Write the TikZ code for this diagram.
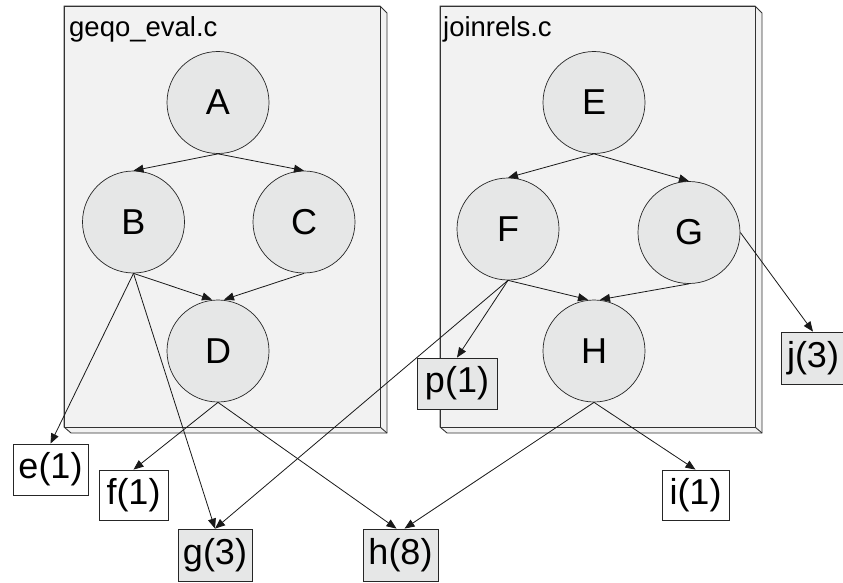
\documentclass[tikz,border=0pt]{standalone}
\usepackage{fontspec}
\setmainfont{Liberation Sans}
\usetikzlibrary{arrows.meta}
\definecolor{panelfill}{HTML}{F2F2F2}
\definecolor{nodefill}{HTML}{E6E7E7}
\newcommand{\circfont}{\fontsize{36}{40}\selectfont}
\newcommand{\leaffont}{\fontsize{36}{40}\selectfont}
\newcommand{\titlefont}{\fontsize{27.5}{31}\selectfont}
\begin{document}
\begin{tikzpicture}[x=1pt,y=-1pt,
  panel/.style={fill=panelfill,draw=black!80,line width=0.9pt},
  circ/.style={circle,draw=black!85,fill=nodefill,line width=0.7pt,minimum size=102pt,inner sep=0pt,font=\circfont},
  leaf/.style={rectangle,draw=black!85,line width=0.8pt,inner sep=0pt,font=\leaffont},
  leafw/.style={leaf,fill=white},
  leafg/.style={leaf,fill=nodefill},
  paneltitle/.style={anchor=base west,inner sep=0pt,font=\titlefont},
  edge/.style={draw=black!90,line width=0.8pt,-{Triangle[length=10pt,width=8pt]}}]
\useasboundingbox (0,0) rectangle (843,583);
\fill[white] (0,0) rectangle (843,583);
% panel 1
\path[panel] (64,6) -- (380,6) -- (387,13) -- (387,433) -- (71,433) -- (64,427) -- cycle;
\path[panel] (64,6) rectangle (380,427);
\draw[black!80,line width=0.9pt] (380,427) -- (387,433);
\node[paneltitle] (t1) at (69,36.5) {geqo\_eval.c};
% panel 2
\path[panel] (440,6) -- (755,6) -- (762,13) -- (762,433) -- (447,433) -- (440,427) -- cycle;
\path[panel] (440,6) rectangle (755,427);
\draw[black!80,line width=0.9pt] (755,427) -- (762,433);
\node[paneltitle] (t2) at (443,36.5) {joinrels.c};
% circles
\node[circ] (A) at (218,102.5) {A};
\node[circ] (B) at (133.5,222) {B};
\node[circ] (C) at (304,222) {C};
\node[circ] (D) at (218,351) {D};
\node[circ] (E) at (594,102.5) {E};
\node[circ] (F) at (508,229) {F};
\node[circ] (G) at (689,232.5) {G};
\node[circ] (H) at (594,351) {H};
% leaves
\node[leafw,minimum width=75pt,minimum height=51pt] (e) at (50.5,469.5) {e(1)};
\node[leafw,minimum width=69pt,minimum height=50pt] (f) at (133.5,495) {f(1)};
\node[leafg,minimum width=74pt,minimum height=52pt] (g) at (215,555) {g(3)};
\node[leafg,minimum width=75pt,minimum height=52pt] (h) at (400.5,555) {h(8)};
\node[leafg,minimum width=80pt,minimum height=51pt] (p) at (457,383.5) {p(1)};
\node[leafg,minimum width=64pt,minimum height=52pt] (j) at (813,358) {j(3)};
\node[leafw,minimum width=67pt,minimum height=50pt] (i) at (695.5,495) {i(1)};
% edges
\path[edge] (A.south) -- (B.north);
\path[edge] (A.south) -- (C.north);
\path[edge] (B.south) -- ([xshift=-6pt]D.north);
\path[edge] (C.south) -- ([xshift=6pt]D.north);
\path[edge] (B.south) -- (e.north);
\path[edge] (B.south) -- (g.north);
\path[edge] (D.south) -- (f.north);
\path[edge] (D.south) -- ([xshift=-4pt]h.north);
\path[edge] (E.south) -- (F.north);
\path[edge] (E.south) -- (G.north);
\path[edge] (F.south) -- ([xshift=-6pt]H.north);
\path[edge] (G.south) -- ([xshift=6pt]H.north);
\path[edge] (F.south) -- (g.north);
\path[edge] (F.south) -- (p.north);
\path[edge] (G.east) -- (j.north);
\path[edge] (H.south) -- ([xshift=4pt]h.north);
\path[edge] (H.south) -- (i.north);
\end{tikzpicture}
\end{document}
